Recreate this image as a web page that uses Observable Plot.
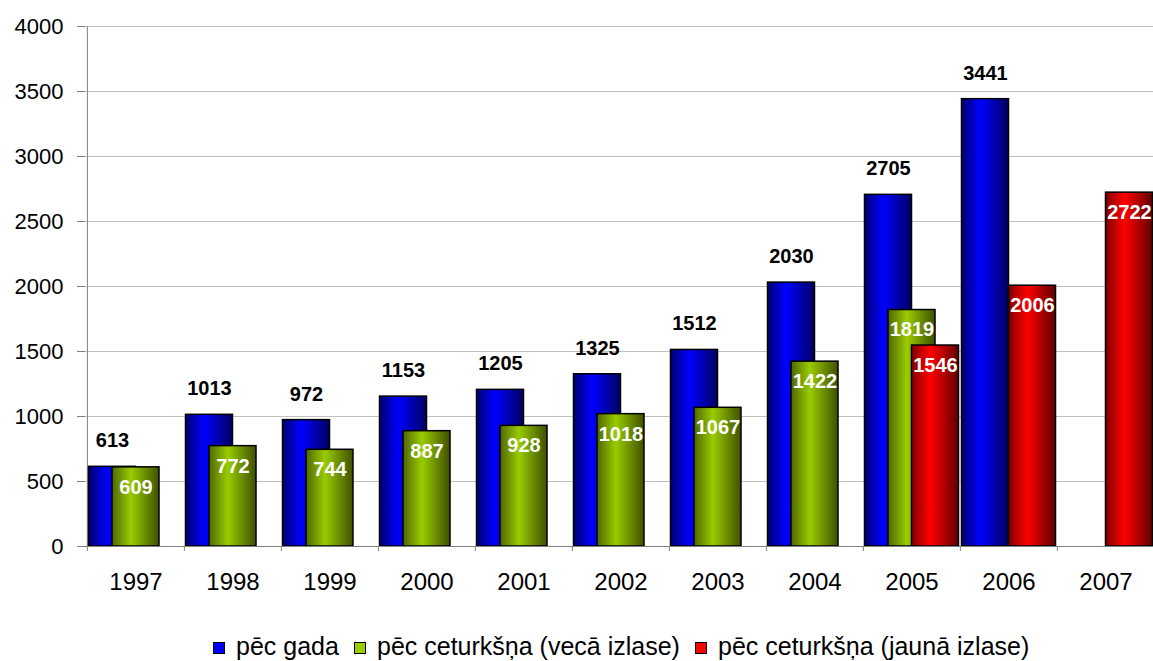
<!DOCTYPE html>
<html>
<head>
<meta charset="utf-8">
<script src="https://cdn.jsdelivr.net/npm/d3@7"></script>
<script src="https://cdn.jsdelivr.net/npm/@observablehq/plot@0.6"></script>
<style>
  html, body { margin: 0; padding: 0; background: #fff; }
  body { width: 1153px; height: 661px; position: relative; overflow: hidden; font-family: "Liberation Sans", Arial, sans-serif; }
  #chart svg { display: block; }
  .legend { position: absolute; top: 615px; left: 0; width: 1153px; height: 46px; }
  .legend .item { position: absolute; top: 19px; height: 24px; display: flex; align-items: center; font-size: 25px; line-height: 24px; color: #000; white-space: nowrap; }
  .legend .swatch { width: 10px; height: 10px; border: 1px solid #000; margin-right: 11px; margin-top: 4px; }
</style>
</head>
<body>
<div id="chart"></div>
<div class="legend" id="legend"></div>
<script>
// Categories and series
const years = ["1997", "1998", "1999", "2000", "2001", "2002", "2003", "2004", "2005", "2006", "2007"];
const annual = [613, 1013, 972, 1153, 1205, 1325, 1512, 2030, 2705, 3441, null];
const quarterlyOld = [609, 772, 744, 887, 928, 1018, 1067, 1422, 1819, null, null];
const quarterlyNew = [null, null, null, null, null, null, null, null, 1546, 2006, 2722];
const seriesNames = ["pēc gada", "pēc ceturkšņa (vecā izlase)", "pēc ceturkšņa (jaunā izlase)"];
const yTicks = [0, 500, 1000, 1500, 2000, 2500, 3000, 3500, 4000];

const rows = (values) => years.map((year, i) => ({year, value: values[i]})).filter(d => d.value != null);
const annualRows = rows(annual);
const oldRows = rows(quarterlyOld);
const newRows = rows(quarterlyNew);

// Each series is drawn in its own slot, half a bar apart, so neighbours overlap by 50%
const SHIFT = 23.5;      // half a bar width, px
const HALF_STEP = 48.64; // half a category width, px
const labelFont = {fontSize: 20, fontWeight: "bold"};

const chart = Plot.plot({
  width: 1153,
  height: 615,
  marginLeft: 85,
  marginRight: 0,
  marginTop: 26,
  marginBottom: 69,
  style: {fontFamily: "'Liberation Sans', Arial, sans-serif", background: "#fff", color: "#000", overflow: "visible"},
  x: {type: "band", domain: years, range: [85, 1155], paddingInner: 0.5168, paddingOuter: 0.2584, align: 0.5, axis: null, label: null},
  y: {domain: [0, 4000], range: [546, 26], axis: null, label: null},
  marks: [
    // horizontal gridlines
    Plot.ruleY(yTicks.filter(v => v > 0), {stroke: "#c0c0c0", strokeWidth: 1}),
    // value axis
    Plot.axisY({ticks: yTicks, tickSize: 8, tickPadding: 14, fontSize: 22, stroke: "#808080", fill: "#000", label: null, tickFormat: d => String(d)}),
    Plot.ruleX([years[0]], {x: d => d, dx: -HALF_STEP, y1: 4000, y2: 0, insetBottom: -5, stroke: "#808080"}),
    // category axis
    Plot.axisX({tickSize: 0, tickPadding: 26, fontSize: 24, fill: "#000", label: null}),
    Plot.ruleX(years.slice(1), {x: d => d, dx: -HALF_STEP, y1: 0, y2: 0, insetBottom: -5, stroke: "#808080"}),
    // bars
    Plot.barY(annualRows, {x: "year", y1: 0, y2: "value", dx: -SHIFT, fill: "url(#grad-blue)", stroke: "#000", strokeWidth: 1.5}),
    Plot.barY(oldRows, {x: "year", y1: 0, y2: "value", fill: "url(#grad-green)", stroke: "#000", strokeWidth: 1.5}),
    Plot.barY(newRows, {x: "year", y1: 0, y2: "value", dx: SHIFT, fill: "url(#grad-red)", stroke: "#000", strokeWidth: 1.5}),
    Plot.ruleY([0], {stroke: "#808080"}),
    // value labels
    Plot.text(annualRows, {x: "year", y: "value", text: d => String(d.value), dx: -SHIFT, dy: -26, fill: "#000", ...labelFont}),
    Plot.text(oldRows, {x: "year", y: "value", text: d => String(d.value), dy: 20, fill: "#fff", ...labelFont}),
    Plot.text(newRows, {x: "year", y: "value", text: d => String(d.value), dx: SHIFT, dy: 20, fill: "#fff", ...labelFont})
  ]
});

// Cylinder-like horizontal shading for each series
const gradients = [
  {id: "grad-blue", stops: [["0%", "#000070"], ["40%", "#0000ff"], ["100%", "#000060"]]},
  {id: "grad-green", stops: [["0%", "#4f6600"], ["40%", "#99cc00"], ["100%", "#3f5000"]]},
  {id: "grad-red", stops: [["0%", "#800000"], ["40%", "#ff0000"], ["100%", "#600000"]]}
];
const defs = d3.select(chart).insert("defs", ":first-child");
for (const g of gradients) {
  const lg = defs.append("linearGradient").attr("id", g.id).attr("x1", "0").attr("x2", "1").attr("y1", "0").attr("y2", "0");
  for (const [offset, color] of g.stops) lg.append("stop").attr("offset", offset).attr("stop-color", color);
}
document.getElementById("chart").appendChild(chart);

// Legend below the plot
const legendColors = ["#0000ff", "#99cc00", "#ff0000"];
const legendLeft = [213, 354, 695];
const legend = document.getElementById("legend");
seriesNames.forEach((name, i) => {
  const item = document.createElement("div");
  item.className = "item";
  item.style.left = legendLeft[i] + "px";
  const sw = document.createElement("span");
  sw.className = "swatch";
  sw.style.background = legendColors[i];
  const label = document.createElement("span");
  label.textContent = name;
  item.appendChild(sw);
  item.appendChild(label);
  legend.appendChild(item);
});
</script>
</body>
</html>
